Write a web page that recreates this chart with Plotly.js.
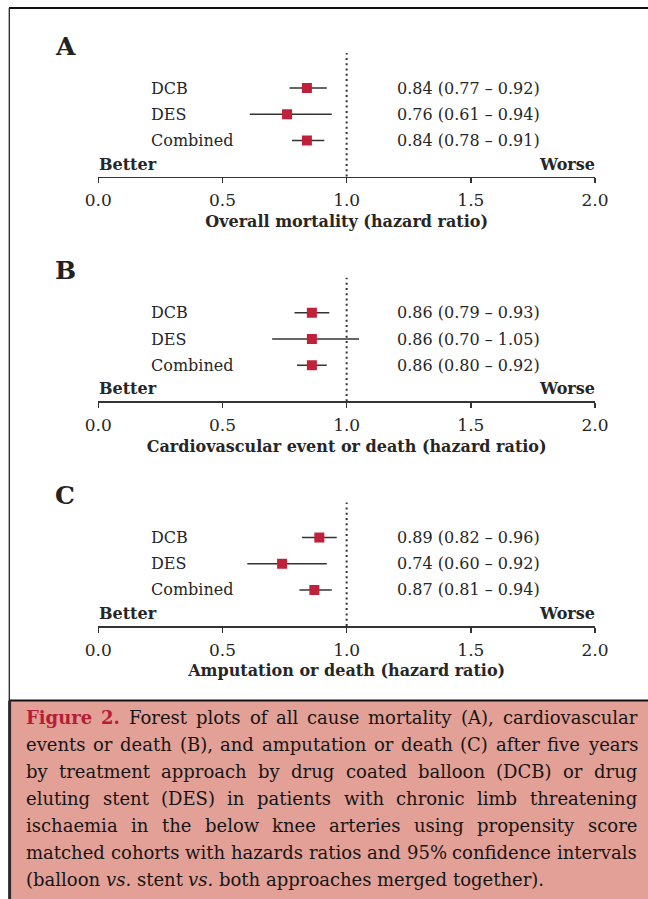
<!DOCTYPE html>
<html>
<head>
<meta charset="utf-8">
<script src="https://cdn.plot.ly/plotly-3.0.1.min.js"></script>
<style>
  html, body { margin: 0; padding: 0; background: #fff; }
  #fig { width: 648px; height: 899px; }
</style>
</head>
<body>
<div id="fig"></div>
<script>
// ---- Data -------------------------------------------------------------
const groups = ['DCB', 'DES', 'Combined'];
const panelLetters = ['A', 'B', 'C'];
const outcomeTitles = [
  'Overall mortality (hazard ratio)',
  'Cardiovascular event or death (hazard ratio)',
  'Amputation or death (hazard ratio)'
];
// hazard ratio, lower and upper 95% CI per group
const hrMortality = [0.84, 0.76, 0.84];
const loMortality = [0.77, 0.61, 0.78];
const hiMortality = [0.92, 0.94, 0.91];

const hrCardio = [0.86, 0.86, 0.86];
const loCardio = [0.79, 0.70, 0.80];
const hiCardio = [0.93, 1.05, 0.92];

const hrAmputation = [0.89, 0.74, 0.87];
const loAmputation = [0.82, 0.60, 0.81];
const hiAmputation = [0.96, 0.92, 0.94];

const xTickVals = [0, 0.5, 1, 1.5, 2];
const xTickText = ['0.0', '0.5', '1.0', '1.5', '2.0'];
const leftLabel = 'Better';
const rightLabel = 'Worse';

const captionLines = [
  'Figure 2. Forest plots of all cause mortality (A), cardiovascular',
  'events or death (B), and amputation or death (C) after five years',
  'by treatment approach by drug coated balloon (DCB) or drug',
  'eluting stent (DES) in patients with chronic limb threatening',
  'ischaemia in the below knee arteries using propensity score',
  'matched cohorts with hazards ratios and 95% confidence intervals',
  '(balloon vs. stent vs. both approaches merged together).'
];

// ---- Layout helpers ---------------------------------------------------
const W = 648, H = 899;
const px = v => v / W;          // pixel -> paper x
const py = v => 1 - v / H;      // pixel -> paper y
const SERIF = '"DejaVu Serif", serif';
const INK = '#262626';
const MARK = '#C0203A';

const panels = [
  { hr: hrMortality, lo: loMortality, hi: hiMortality },
  { hr: hrCardio, lo: loCardio, hi: hiCardio },
  { hr: hrAmputation, lo: loAmputation, hi: hiAmputation }
];

const PANEL_STEP = 224.75;
const AXIS_Y0 = 176.5;       // x-axis line of the first panel
const PLOT_H = 123.5;        // height of each forest area
const X_LEFT = 98.3, X_RIGHT = 595;
const yRange = [-0.374, 4.336];
const rowPos = groups.map((g, i) => groups.length - i);

const fmt = v => v.toFixed(2);

const traces = [];
const annotations = [];
const shapes = [];
const layout = {
  width: W, height: H,
  margin: { l: 0, r: 0, t: 0, b: 0 },
  paper_bgcolor: '#fff', plot_bgcolor: 'rgba(0,0,0,0)',
  showlegend: false,
  font: { family: SERIF, color: INK, size: 16 }
};

panels.forEach((p, k) => {
  const sfx = k === 0 ? '' : String(k + 1);
  const xa = 'x' + sfx, ya = 'y' + sfx;
  const axisY = AXIS_Y0 + PANEL_STEP * k;

  layout['xaxis' + sfx] = {
    domain: [px(X_LEFT), px(X_RIGHT)],
    anchor: ya,
    range: [0, 2],
    fixedrange: true,
    showgrid: false, zeroline: false,
    showline: true, linecolor: '#333', linewidth: 1.5,
    ticks: 'outside', ticklen: 5, tickwidth: 1.5, tickcolor: '#333',
    tickvals: xTickVals, ticktext: xTickText,
    tickfont: { family: SERIF, size: 17, color: INK },
    ticklabelstandoff: 3,
    automargin: false,
    title: {
      text: '<b>' + outcomeTitles[k] + '</b>',
      font: { family: SERIF, size: 16, color: INK },
      standoff: 6
    }
  };
  layout['yaxis' + sfx] = {
    domain: [py(axisY), py(axisY - PLOT_H)],
    anchor: xa,
    range: yRange,
    visible: false,
    fixedrange: true
  };

  // confidence interval whiskers
  const cx = [], cy = [];
  p.lo.forEach((lo, i) => { cx.push(lo, p.hi[i], null); cy.push(rowPos[i], rowPos[i], null); });
  traces.push({
    type: 'scatter', mode: 'lines', x: cx, y: cy, xaxis: xa, yaxis: ya,
    line: { color: '#333', width: 1.6 }, hoverinfo: 'skip'
  });
  // point estimates
  traces.push({
    type: 'scatter', mode: 'markers', x: p.hr, y: rowPos, xaxis: xa, yaxis: ya,
    marker: { symbol: 'square', size: 10, color: MARK, line: { width: 0 } },
    hoverinfo: 'skip'
  });

  // line of no effect
  shapes.push({
    type: 'line', xref: xa, yref: ya + ' domain', x0: 1, x1: 1, y0: 0, y1: 1,
    line: { color: '#333', width: 2, dash: '2px,3.3px' }, layer: 'below'
  });

  // panel letter
  annotations.push({
    text: '<b>' + panelLetters[k] + '</b>', xref: 'paper', yref: 'paper',
    x: px(54), y: py(46 + PANEL_STEP * k), xanchor: 'left', yanchor: 'middle',
    showarrow: false, borderpad: 0, font: { family: SERIF, size: 25, color: '#222' }
  });

  groups.forEach((g, i) => {
    annotations.push({
      text: g, xref: 'paper', yref: ya, x: px(149.5), y: rowPos[i],
      xanchor: 'left', yanchor: 'middle', showarrow: false, borderpad: 0,
      font: { family: SERIF, size: 16, color: INK }
    });
    annotations.push({
      text: fmt(p.hr[i]) + ' (' + fmt(p.lo[i]) + ' \u2013 ' + fmt(p.hi[i]) + ')',
      xref: 'paper', yref: ya, x: px(396), y: rowPos[i],
      xanchor: 'left', yanchor: 'middle', showarrow: false, borderpad: 0,
      font: { family: SERIF, size: 16, color: INK }
    });
  });

  annotations.push({
    text: '<b>' + leftLabel + '</b>', xref: 'paper', yref: 'paper',
    x: px(97.5), y: py(axisY - 12.5), xanchor: 'left', yanchor: 'middle',
    showarrow: false, borderpad: 0, font: { family: SERIF, size: 16, color: INK }
  });
  annotations.push({
    text: '<b>' + rightLabel + '</b>', xref: 'paper', yref: 'paper',
    x: px(595.5), y: py(axisY - 12.5), xanchor: 'right', yanchor: 'middle',
    showarrow: false, borderpad: 0, font: { family: SERIF, size: 16, color: INK }
  });
});

// ---- Frame and caption box -------------------------------------------
const CAP_TOP = 700.5;
shapes.push(
  { type: 'rect', xref: 'paper', yref: 'paper', x0: px(10), x1: 1, y0: 0, y1: py(CAP_TOP),
    fillcolor: '#E3A096', line: { width: 0 }, layer: 'below' },
  { type: 'line', xref: 'paper', yref: 'paper', x0: px(9), x1: 1, y0: py(8), y1: py(8),
    line: { color: '#111', width: 2 } },
  { type: 'line', xref: 'paper', yref: 'paper', x0: px(9.3), x1: px(9.3), y0: py(CAP_TOP), y1: py(8),
    line: { color: '#222', width: 1.3 } },
  { type: 'line', xref: 'paper', yref: 'paper', x0: px(9), x1: 1, y0: py(CAP_TOP), y1: py(CAP_TOP),
    line: { color: '#111', width: 2 } },
  { type: 'line', xref: 'paper', yref: 'paper', x0: px(9.6), x1: px(9.6), y0: 0, y1: py(CAP_TOP),
    line: { color: '#2a2a2a', width: 3 } }
);
layout.shapes = shapes;

// ---- Justified caption, one annotation per word ----------------------
const CAP_SIZE = 18;
const CAP_LEFT = 25, CAP_RIGHT = 636;
const CAP_Y0 = 717.5, CAP_LEAD = 27;
const ctx = document.createElement('canvas').getContext('2d');
function measure(word, style) {
  ctx.font = style + ' ' + CAP_SIZE + 'px "DejaVu Serif"';
  return ctx.measureText(word).width;
}
captionLines.forEach((line, li) => {
  const words = line.split(' ');
  const items = words.map((w, wi) => {
    let style = 'normal', color = '#151515', html = w;
    if (li === 0 && wi < 2) { style = 'bold'; color = '#B51E36'; html = '<b>' + w + '</b>'; }
    else if (w === 'vs.') { style = 'italic'; html = '<i>' + w + '</i>'; }
    return { html, color, w: measure(w, style) };
  });
  const total = items.reduce((s, it) => s + it.w, 0);
  const isLast = li === captionLines.length - 1;
  const gap = isLast ? measure(' ', 'normal') : (CAP_RIGHT - CAP_LEFT - total) / (items.length - 1);
  let x = CAP_LEFT;
  items.forEach(it => {
    annotations.push({
      text: it.html, xref: 'paper', yref: 'paper', x: px(x), y: py(CAP_Y0 + CAP_LEAD * li),
      xanchor: 'left', yanchor: 'middle', showarrow: false, borderpad: 0,
      font: { family: SERIF, size: CAP_SIZE, color: it.color }
    });
    x += it.w + gap;
  });
});
layout.annotations = annotations;

Plotly.newPlot('fig', traces, layout, { staticPlot: true, displayModeBar: false });
</script>
</body>
</html>
